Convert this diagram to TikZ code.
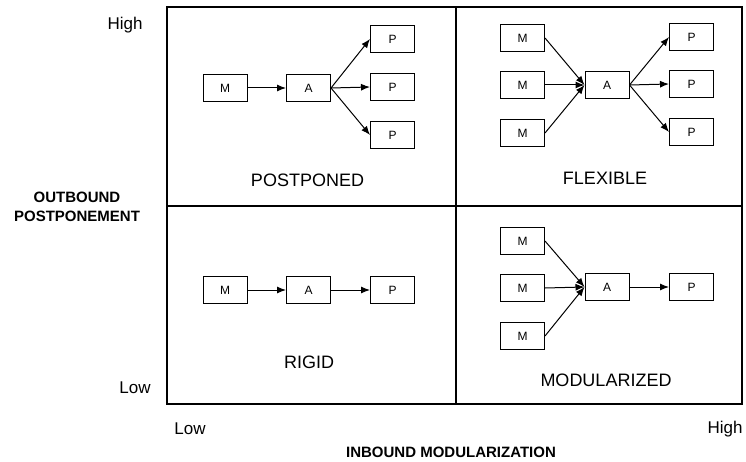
\documentclass[tikz,border=0pt]{standalone}
\usepackage{fontspec}
\setmainfont{Liberation Sans}
\usetikzlibrary{arrows.meta}

\begin{document}
\begin{tikzpicture}[x=1pt,y=-1pt]
        % Define the styles for the nodes
        \tikzset{box/.style={draw,line width=1pt,minimum width=44pt,minimum height=27pt,inner sep=0pt,font=\fontsize{12}{14}\selectfont},
            quad/.style={font=\fontsize{18}{21}\selectfont},
            level/.style={anchor=base,font=\fontsize{17}{20}\selectfont},
            axis/.style={align=center,font=\bfseries\fontsize{15}{19}\selectfont},
            arr/.style={-{Latex[length=9pt,width=7pt]},line width=1pt}}

        \useasboundingbox (0,0) rectangle (746,462);

        % Frame
        \draw[line width=2pt] (167,7) rectangle (742,404);
        \draw[line width=1.1pt] (456,7) -- (456,404);
        \draw[line width=1.1pt] (167,206) -- (742,206);

        % Axis labels
        \node[level] (yhigh) at (125,30) {High};
        \node[level] (ylow) at (135,393) {Low};
        \node[level] (xlow) at (190,434) {Low};
        \node[level] (xhigh) at (725,433) {High};
        \node[axis] (yaxis) at (77,207) {OUTBOUND\\POSTPONEMENT};
        \node[axis] (xaxis) at (451,452) {INBOUND MODULARIZATION};

        % Quadrant labels
        \node[quad] (postponed) at (307.5,180) {POSTPONED};
        \node[quad] (flexible) at (605,178) {FLEXIBLE};
        \node[quad] (rigid) at (309,362) {RIGID};
        \node[quad] (modularized) at (606,380) {MODULARIZED};

        % Nodes: postponed
        \node[box] (pm) at (225,88) {M};
        \node[box] (pa) at (308.5,88) {A};
        \node[box] (pp1) at (392.5,39) {P};
        \node[box] (pp2) at (392.5,87) {P};
        \node[box] (pp3) at (392.5,135) {P};

        % Nodes: flexible
        \node[box] (fm1) at (522.5,38) {M};
        \node[box] (fm2) at (522.5,85) {M};
        \node[box] (fm3) at (522.5,133) {M};
        \node[box] (fa) at (607,85) {A};
        \node[box] (fp1) at (691.5,37) {P};
        \node[box] (fp2) at (691.5,84) {P};
        \node[box] (fp3) at (691.5,132) {P};

        % Nodes: rigid
        \node[box] (rm) at (225,290) {M};
        \node[box] (ra) at (308.5,290) {A};
        \node[box] (rp) at (392.5,290) {P};

        % Nodes: modularized
        \node[box] (mm1) at (522.5,241) {M};
        \node[box] (mm2) at (522.5,288) {M};
        \node[box] (mm3) at (522.5,336) {M};
        \node[box] (ma) at (607,287) {A};
        \node[box] (mp) at (691.5,287) {P};

        % Edges
        \draw[arr] (pm) -- (pa);
        \draw[arr] (pa.east) -- (pp1.west);
        \draw[arr] (pa.east) -- (pp2.west);
        \draw[arr] (pa.east) -- (pp3.west);

        \draw[arr] (fm1.east) -- (fa.west);
        \draw[arr] (fm2.east) -- (fa.west);
        \draw[arr] (fm3.east) -- (fa.west);
        \draw[arr] (fa.east) -- (fp1.west);
        \draw[arr] (fa.east) -- (fp2.west);
        \draw[arr] (fa.east) -- (fp3.west);

        \draw[arr] (rm) -- (ra);
        \draw[arr] (ra) -- (rp);

        \draw[arr] (mm1.east) -- (ma.west);
        \draw[arr] (mm2.east) -- (ma.west);
        \draw[arr] (mm3.east) -- (ma.west);
        \draw[arr] (ma) -- (mp);
    \end{tikzpicture}
\end{document}
